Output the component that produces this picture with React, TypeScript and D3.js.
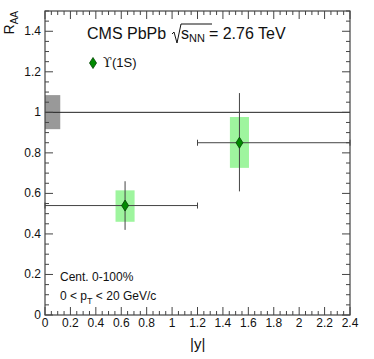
import React from 'react';
import * as d3 from 'd3';

// |y| bins and R_AA values for Upsilon(1S)
const binCenters = [0.63, 1.53];
const binLow = [0, 1.2];
const binHigh = [1.2, 2.4];
const raa = [0.54, 0.85];
const statLow = [0.42, 0.61];
const statHigh = [0.66, 1.095];
const systLow = [0.46, 0.726];
const systHigh = [0.615, 0.977];
const systHalfWidth = [0.075, 0.075];

const globalUnc = [0.917, 1.085];
const globalWidth = 0.12;

const xTicks = [0, 0.2, 0.4, 0.6, 0.8, 1, 1.2, 1.4, 1.6, 1.8, 2, 2.2, 2.4];
const yTicks = [0, 0.2, 0.4, 0.6, 0.8, 1, 1.2, 1.4];

const W = 374;
const H = 359;
const margin = { left: 45, right: 24, top: 11, bottom: 44 };

const App = () => {
  const x = d3
    .scaleLinear()
    .domain([0, 2.4])
    .range([margin.left, W - margin.right]);
  const y = d3
    .scaleLinear()
    .domain([0, 1.5])
    .range([H - margin.bottom, margin.top]);

  const x0 = x.range()[0];
  const x1 = x.range()[1];
  const y0 = y.range()[0];
  const y1 = y.range()[1];

  const xMinor = d3.range(0, 2.4001, 0.05);
  const yMinor = d3.range(0, 1.5001, 0.05);
  const isMajor = (v) => Math.abs(v / 0.2 - Math.round(v / 0.2)) < 1e-6;

  const font = 'Liberation Sans, Arial, sans-serif';
  const axisCol = '#444';
  const barCol = '#444';

  const diamond = (cx, cy, w, h) =>
    `M${cx},${cy - h} L${cx + w},${cy} L${cx},${cy + h} L${cx - w},${cy} Z`;

  return (
    <svg
      width={W}
      height={H}
      style={{ position: 'absolute', left: 0, top: 0, background: '#fff' }}
      fontFamily={font}
    >
      {/* global uncertainty box */}
      <rect
        x={x(0)}
        y={y(globalUnc[1])}
        width={x(globalWidth) - x(0)}
        height={y(globalUnc[0]) - y(globalUnc[1])}
        fill="#999"
      />
      {/* line at unity */}
      <line x1={x0} x2={x1} y1={y(1)} y2={y(1)} stroke="#222" strokeWidth={1} />

      {/* systematic boxes */}
      {binCenters.map((c, i) => (
        <rect
          key={'s' + i}
          x={x(c - systHalfWidth[i])}
          y={y(systHigh[i])}
          width={x(c + systHalfWidth[i]) - x(c - systHalfWidth[i])}
          height={y(systLow[i]) - y(systHigh[i])}
          fill="#9ef59e"
        />
      ))}

      {/* error bars */}
      {binCenters.map((c, i) => (
        <g key={'e' + i} stroke={barCol} strokeWidth={1}>
          <line x1={x(binLow[i])} x2={x(binHigh[i])} y1={y(raa[i])} y2={y(raa[i])} />
          <line x1={x(binLow[i])} x2={x(binLow[i])} y1={y(raa[i]) - 3} y2={y(raa[i]) + 3} />
          <line x1={x(binHigh[i])} x2={x(binHigh[i])} y1={y(raa[i]) - 3} y2={y(raa[i]) + 3} />
          <line x1={x(c)} x2={x(c)} y1={y(statLow[i])} y2={y(statHigh[i])} />
        </g>
      ))}

      {/* markers */}
      {binCenters.map((c, i) => (
        <path
          key={'m' + i}
          d={diamond(x(c), y(raa[i]), 3.5, 5.5)}
          fill="#008a00"
          stroke="#004400"
          strokeWidth={0.8}
        />
      ))}

      {/* frame */}
      <rect
        x={x0}
        y={y1}
        width={x1 - x0}
        height={y0 - y1}
        fill="none"
        stroke={axisCol}
        strokeWidth={1.2}
      />

      {/* x ticks */}
      {xMinor.map((v, i) => {
        const len = isMajor(v) ? 8 : 4;
        return (
          <g key={'xt' + i} stroke={axisCol} strokeWidth={1}>
            <line x1={x(v)} x2={x(v)} y1={y0} y2={y0 - len} />
            <line x1={x(v)} x2={x(v)} y1={y1} y2={y1 + len} />
          </g>
        );
      })}
      {/* y ticks */}
      {yMinor.map((v, i) => {
        const len = isMajor(v) ? 8 : 4;
        return (
          <g key={'yt' + i} stroke={axisCol} strokeWidth={1}>
            <line x1={x0} x2={x0 + len} y1={y(v)} y2={y(v)} />
            <line x1={x1} x2={x1 - len} y1={y(v)} y2={y(v)} />
          </g>
        );
      })}

      {/* tick labels */}
      {xTicks.map((v, i) => (
        <text
          key={'xl' + i}
          x={x(v)}
          y={y0 + 12}
          fontSize={12}
          textAnchor="middle"
          fill="#111"
        >
          {String(v)}
        </text>
      ))}
      {yTicks.map((v, i) => (
        <text
          key={'yl' + i}
          x={x0 - 4}
          y={y(v) + 4}
          fontSize={12}
          textAnchor="end"
          fill="#111"
        >
          {String(v)}
        </text>
      ))}

      {/* axis titles */}
      <text x={190} y={349} fontSize={15} fill="#111">
        |y|
      </text>
      <text
        transform={`translate(14,11) rotate(-90)`}
        fontSize={14}
        textAnchor="end"
        fill="#111"
      >
        R<tspan fontSize={10} dy={4}>AA</tspan>
      </text>

      {/* header */}
      <text x={87} y={39} fontSize={16} fill="#111">
        CMS PbPb
      </text>
      <path d="M172,34 L174,32 L177,43 L181,24 L212,24" fill="none" stroke="#111" strokeWidth={1} />
      <text x={181} y={39} fontSize={16} fill="#111">
        s<tspan fontSize={11} dy={3}>NN</tspan>
        <tspan dy={-3} dx={4}>= 2.76 TeV</tspan>
      </text>

      {/* legend */}
      <path d={diamond(93, 63, 3.5, 5.5)} fill="#008a00" stroke="#004400" strokeWidth={0.8} />
      <text x={103} y={67} fontSize={13} fill="#111">
        <tspan fontFamily="DejaVu Serif, serif">ϒ</tspan>(1S)
      </text>

      {/* notes */}
      <text x={60} y={281} fontSize={12} fill="#111">
        Cent. 0-100%
      </text>
      <text x={60} y={300} fontSize={12} fill="#111">
        0 &lt; p<tspan fontSize={9} dy={4}>T</tspan>
        <tspan dy={-4}> &lt; 20 GeV/c</tspan>
      </text>
    </svg>
  );
};

export default App;
